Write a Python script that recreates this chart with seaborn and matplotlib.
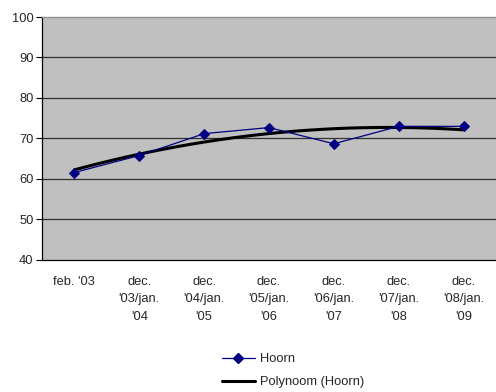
import numpy as np
import pandas as pd
import matplotlib
matplotlib.use("Agg")
import matplotlib.pyplot as plt
from matplotlib.lines import Line2D
import seaborn as sns

# Survey periods and values for Hoorn
periods = ["feb. '03", "dec.\n'03/jan.\n'04", "dec.\n'04/jan.\n'05",
           "dec.\n'05/jan.\n'06", "dec.\n'06/jan.\n'07", "dec.\n'07/jan.\n'08",
           "dec.\n'08/jan.\n'09"]
hoorn = [61.6, 65.8, 71.2, 72.7, 68.7, 73.0, 73.0]
y_ticks = [40, 50, 60, 70, 80, 90, 100]

sns.set_style("white")
plt.rcParams["font.family"] = ["Liberation Sans", "DejaVu Sans"]
fs = 9.3

df = pd.DataFrame({"pos": np.arange(len(periods)), "Hoorn": hoorn})

fig = plt.figure(figsize=(4.96, 3.92), dpi=100)
ax = fig.add_axes([42 / 496, 132 / 392, 1 - 42 / 496, (260 - 17) / 392])
ax.set_facecolor("#C0C0C0")

# Second-order polynomial trendline
sns.regplot(data=df, x="pos", y="Hoorn", order=2, ci=None, scatter=False,
            ax=ax, line_kws=dict(color="black", lw=2.2, zorder=3))
# Data series
sns.lineplot(data=df, x="pos", y="Hoorn", ax=ax, color="#000080", lw=0.9,
             marker="D", markersize=5.5, markeredgecolor="#000080", zorder=4)

ax.set_xlim(-0.5, len(periods) - 0.5)
ax.set_ylim(40, 100)
ax.set_yticks(y_ticks)
ax.set_yticklabels([str(v) for v in y_ticks], fontsize=fs)
ax.set_xticks(range(len(periods)))
ax.set_xticklabels(periods, fontsize=fs, linespacing=1.6, va="top")
ax.set_xticks(np.arange(-0.5, len(periods), 1.0), minor=True)
ax.tick_params(axis="x", which="major", length=0, pad=11.5)
ax.tick_params(axis="x", which="minor", length=4, width=0.8, color="black",
               direction="out")
ax.tick_params(axis="y", length=4, width=0.8, color="black", direction="out",
               pad=2, left=True)
ax.set_xlabel("")
ax.set_ylabel("")

for v in y_ticks[1:-1]:
    ax.axhline(v, color="#303030", lw=0.9, zorder=1)

for side in ["left", "bottom"]:
    ax.spines[side].set_color("black")
    ax.spines[side].set_linewidth(0.9)
ax.spines["top"].set_color("#909090")
ax.spines["top"].set_linewidth(1.0)
ax.spines["right"].set_visible(False)

handles = [
    Line2D([], [], color="#000080", lw=0.9, marker="D", markersize=5,
           markeredgecolor="#000080"),
    Line2D([], [], color="black", lw=2.2),
]
fig.legend(handles, ["Hoorn", "Polynoom (Hoorn)"], loc="upper left",
           bbox_to_anchor=(222 / 496, 1 - 353 / 392), frameon=False,
           fontsize=fs, handlelength=2.55, handletextpad=0.4, labelspacing=0.85,
           borderpad=0, borderaxespad=0)

fig.savefig("out.png", dpi=100, facecolor="white")
